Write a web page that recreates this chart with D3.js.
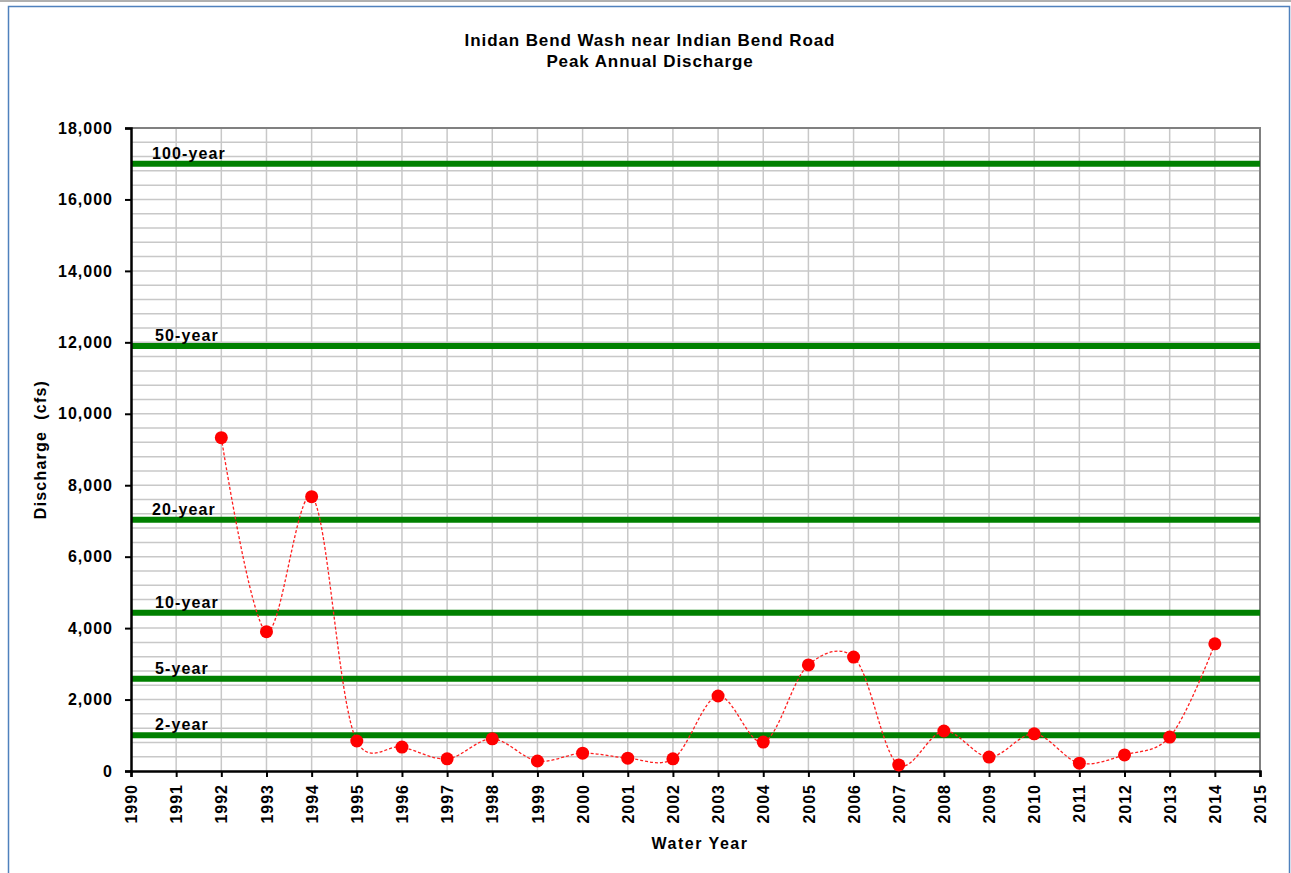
<!DOCTYPE html>
<meta charset="utf-8">
<style>
body { margin: 0; background: #fff; }
text { font-family: "Liberation Sans", Arial, sans-serif; font-weight: bold; fill: #000; white-space: pre; }
.grid line { stroke: #c8c8c8; stroke-width: 1.5px; }
</style>
<body>
<div id="chart"></div>
<script src="https://cdn.jsdelivr.net/npm/d3@7"></script>
<script>

// peak annual discharge (cfs)
var years = [1992, 1993, 1994, 1995, 1996, 1997, 1998, 1999, 2000, 2001, 2002, 2003,
             2004, 2005, 2006, 2007, 2008, 2009, 2010, 2011, 2012, 2013, 2014];
var discharge = [9330, 3900, 7680, 840, 670, 340, 900, 280, 500, 360, 340, 2100,
                 810, 2970, 3190, 170, 1120, 390, 1040, 220, 450, 950, 3560];

// return period flows
var returnLabels = ["100-year", "50-year", "20-year", "10-year", "5-year", "2-year"];
var returnFlows = [17000, 11900, 7030, 4430, 2580, 1000];

var yTicks = [0, 2000, 4000, 6000, 8000, 10000, 12000, 14000, 16000, 18000];
var xTicks = d3.range(1990, 2016);

var width = 1291,
    height = 873,
    margin = {top: 128, right: 31, bottom: 102, left: 131};

var svg = d3.select("#chart").append("svg")
    .attr("width", width)
    .attr("height", height);

// outer frame
svg.append("line")
    .attr("x1", 0).attr("x2", width).attr("y1", 1).attr("y2", 1)
    .style("stroke", "#b0b0b0").style("stroke-width", 2);
svg.append("rect")
    .attr("x", 8.5).attr("y", 6.5)
    .attr("width", 1281).attr("height", 880)
    .style("fill", "none").style("stroke", "#4f81bd").style("stroke-width", 1.5);

var x = d3.scaleLinear().domain([1990, 2015]).range([margin.left, width - margin.right]);
var y = d3.scaleLinear().domain([0, 18000]).range([height - margin.bottom, margin.top]);

// grid
var grid = svg.append("g").attr("class", "grid");
grid.selectAll("line.h")
    .data(d3.range(400, 18000, 400))
    .enter().append("line")
    .attr("x1", x(1990)).attr("x2", x(2015))
    .attr("y1", function(d) { return y(d); })
    .attr("y2", function(d) { return y(d); });
grid.selectAll("line.v")
    .data(d3.range(1991, 2015))
    .enter().append("line")
    .attr("y1", y(0)).attr("y2", y(18000))
    .attr("x1", function(d) { return x(d); })
    .attr("x2", function(d) { return x(d); });

// plot area border (top and right)
svg.append("path")
    .attr("d", "M" + x(1990) + "," + y(18000) + "H" + x(2015) + "V" + y(0))
    .style("fill", "none").style("stroke", "#808080").style("stroke-width", 2);

// return period lines
svg.selectAll("line.rp")
    .data(returnFlows)
    .enter().append("line")
    .attr("x1", x(1990)).attr("x2", x(2015))
    .attr("y1", function(d) { return y(d); })
    .attr("y2", function(d) { return y(d); })
    .style("stroke", "#008000").style("stroke-width", 6);

svg.selectAll("text.rp")
    .data(returnFlows)
    .enter().append("text")
    .attr("x", function(d, i) { return i == 0 || i == 2 ? x(1990) + 21 : x(1990) + 24; })
    .attr("y", function(d) { return y(d) - 5; })
    .style("font-size", "16px")
    .style("letter-spacing", "1.1px")
    .text(function(d, i) { return returnLabels[i]; });

// axes
var yAxis = svg.append("g")
    .attr("transform", "translate(" + x(1990) + ",0)")
    .call(d3.axisLeft(y).tickValues(yTicks).tickSize(6).tickPadding(12)
        .tickFormat(d3.format(",")));
yAxis.selectAll("text").style("font-size", "16px").style("letter-spacing", "1px");

var xAxis = svg.append("g")
    .attr("transform", "translate(0," + y(0) + ")")
    .call(d3.axisBottom(x).tickValues(xTicks).tickSize(6).tickFormat(d3.format("d")));
xAxis.selectAll("text")
    .style("font-size", "16px")
    .style("letter-spacing", "1px")
    .style("text-anchor", "end")
    .attr("transform", "rotate(-90)")
    .attr("x", -13)
    .attr("y", 0)
    .attr("dy", "0.35em");

svg.selectAll(".domain").style("stroke", "#000").style("stroke-width", 2.5);
svg.selectAll(".tick line").style("stroke", "#000").style("stroke-width", 2);

// data
var data = years.map(function(d, i) { return {year: d, q: discharge[i]}; });

var line = d3.line()
    .x(function(d) { return x(d.year); })
    .y(function(d) { return y(d.q); })
    .curve(d3.curveCatmullRom.alpha(0.2));

svg.append("path")
    .datum(data)
    .attr("d", line)
    .style("fill", "none")
    .style("stroke", "#ff2020")
    .style("stroke-width", 1.3)
    .style("stroke-dasharray", "3,2");

svg.selectAll("circle")
    .data(data)
    .enter().append("circle")
    .attr("cx", function(d) { return x(d.year); })
    .attr("cy", function(d) { return y(d.q); })
    .attr("r", 6.5)
    .style("fill", "#ff0000");

// titles
svg.append("text")
    .attr("x", 650).attr("y", 46)
    .attr("text-anchor", "middle")
    .style("font-size", "17px")
    .style("letter-spacing", "0.9px")
    .text("Inidan Bend Wash near Indian Bend Road");
svg.append("text")
    .attr("x", 650).attr("y", 67)
    .attr("text-anchor", "middle")
    .style("font-size", "17px")
    .style("letter-spacing", "0.9px")
    .text("Peak Annual Discharge");

svg.append("text")
    .attr("transform", "translate(46," + y(9000) + ") rotate(-90)")
    .attr("text-anchor", "middle")
    .style("font-size", "16px")
    .style("letter-spacing", "1.2px")
    .text("Discharge  (cfs)");

svg.append("text")
    .attr("x", 700).attr("y", 849)
    .attr("text-anchor", "middle")
    .style("font-size", "16px")
    .style("letter-spacing", "1.5px")
    .text("Water Year");

</script>
